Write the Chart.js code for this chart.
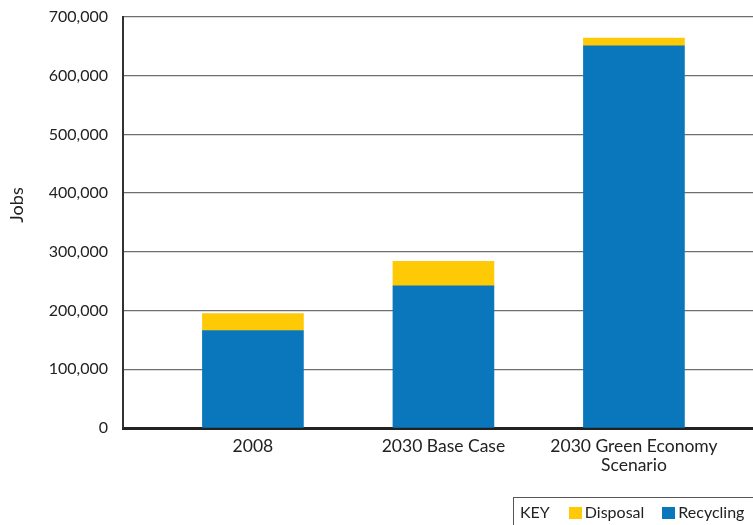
<!DOCTYPE html>
<html>
<head>
<meta charset="utf-8">
<script src="https://cdn.jsdelivr.net/npm/chart.js@4.4.1/dist/chart.umd.min.js"></script>
<style>
  html, body { margin: 0; padding: 0; background: #fff; }
  #wrap { position: relative; width: 753px; height: 525px; overflow: hidden; }
  canvas { position: absolute; left: 0; top: 0; }
  #key {
    position: absolute; left: 513px; top: 497px; width: 260px; height: 40px;
    border: 1px solid #555; box-sizing: border-box;
    font-family: Lato, "Open Sans", sans-serif; font-size: 16px; color: #222;
    display: flex; align-items: flex-start; padding-top: 4px; padding-left: 6px;
  }
  #key .lbl { margin-right: 19px; }
  #key .sw { display: inline-block; width: 13px; height: 12px; margin-top: 5px; margin-right: 3px; }
  #key .it { margin-right: 18px; }
</style>
</head>
<body>
<div id="wrap">
  <canvas id="c" width="753" height="525"></canvas>
  <div id="key"></div>
</div>
<script>
const categories = ['2008', '2030 Base Case', ['2030 Green Economy', 'Scenario']];
const recycling = [166000, 242000, 651000];
const disposal = [29000, 42000, 13000];
const yTicks = [0, 100000, 200000, 300000, 400000, 500000, 600000, 700000];
const seriesNames = ['Recycling', 'Disposal'];
const colors = { Recycling: '#0a77bd', Disposal: '#fdca05' };

const FONT = 'Lato, "Open Sans", sans-serif';

const yTitlePlugin = {
  id: 'yTitle',
  afterDraw(chart) {
    const ctx = chart.ctx;
    ctx.save();
    ctx.font = '18px ' + FONT;
    ctx.fillStyle = '#222';
    ctx.textAlign = 'center';
    ctx.textBaseline = 'middle';
    ctx.translate(17, 205);
    ctx.rotate(-Math.PI / 2);
    ctx.fillText('Jobs', 0, 0);
    ctx.restore();
  }
};

const chart = new Chart(document.getElementById('c'), {
  type: 'bar',
  data: {
    datasets: [
      {
        label: seriesNames[0],
        data: recycling.map((v, i) => ({ x: i, y: v })),
        backgroundColor: colors.Recycling,
        barThickness: 101,
        borderWidth: 0
      },
      {
        label: seriesNames[1],
        data: disposal.map((v, i) => ({ x: i, y: v })),
        backgroundColor: colors.Disposal,
        barThickness: 101,
        borderWidth: 0
      }
    ]
  },
  options: {
    responsive: false,
    animation: false,
    layout: { padding: { top: 17, right: 0, bottom: 0, left: 0 } },
    plugins: { legend: { display: false }, tooltip: { enabled: false } },
    scales: {
      x: {
        type: 'linear',
        stacked: true,
        offset: false,
        min: -0.682,
        max: 2.625,
        grid: { display: false, drawTicks: false, offset: false },
        border: { display: true, color: '#222', width: 3 },
        afterBuildTicks(scale) {
          scale.ticks = categories.map((c, i) => ({ value: i }));
        },
        afterFit(scale) { scale.height = 97; },
        ticks: {
          autoSkip: false,
          maxRotation: 0,
          padding: 9,
          color: '#222',
          font: { family: FONT, size: 17.5, lineHeight: 1.08 },
          callback: (v) => categories[v]
        }
      },
      y: {
        stacked: true,
        min: 0,
        max: 700000,
        afterBuildTicks(scale) {
          scale.ticks = yTicks.map(v => ({ value: v }));
        },
        afterFit(scale) { scale.width = 123; },
        grid: { color: '#6e6e6e', lineWidth: 1.3, drawTicks: true, tickLength: 15, tickColor: 'rgba(0,0,0,0)' },
        border: { display: true, color: '#333', width: 2 },
        ticks: {
          padding: 0,
          color: '#222',
          font: { family: FONT, size: 16 },
          callback: (v) => v.toLocaleString('en-US')
        }
      }
    }
  },
  plugins: [yTitlePlugin]
});

const key = document.getElementById('key');
let html = '<span class="lbl">KEY</span>';
['Disposal', 'Recycling'].forEach(name => {
  const ds = chart.data.datasets.find(d => d.label === name);
  html += '<span class="sw" style="background:' + ds.backgroundColor + '"></span><span class="it">' + name + '</span>';
});
key.innerHTML = html;
</script>
</body>
</html>
